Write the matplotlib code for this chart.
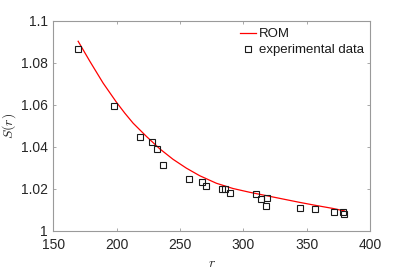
import matplotlib
matplotlib.use("Agg")
import matplotlib.pyplot as plt

plt.rcParams['font.family'] = ['Liberation Sans', 'DejaVu Sans']
plt.rcParams['mathtext.fontset'] = 'cm'

# ROM curve
rom_r = [169.6, 178.9, 189.3, 199.8, 206.4, 213.0, 223.5, 234.0, 244.5, 255.0,
         265.5, 278.7, 291.8, 305.0, 318.1, 331.2, 344.4, 357.6, 370.7, 380.0]
rom_s = [1.0902, 1.0806, 1.0703, 1.0612, 1.0560, 1.0512, 1.0449, 1.0390, 1.0340, 1.0298,
         1.0262, 1.0226, 1.0201, 1.0183, 1.0167, 1.0151, 1.0135, 1.0120, 1.0106, 1.0094]

# Experimental data
exp_r = [169.3, 197.7, 218.2, 227.9, 231.9, 236.9, 256.9, 267.6, 270.8, 282.9,
         285.8, 289.2, 309.7, 314.2, 318.4, 317.8, 344.6, 356.5, 371.4, 378.9, 379.1]
exp_s = [1.0863, 1.0595, 1.0446, 1.0424, 1.0390, 1.0314, 1.0244, 1.0232, 1.0211, 1.0200,
         1.0200, 1.0180, 1.0175, 1.0149, 1.0154, 1.0120, 1.0108, 1.0105, 1.0087, 1.0090, 1.0080]

xticks = [150, 200, 250, 300, 350, 400]
yticks = [1.0, 1.02, 1.04, 1.06, 1.08, 1.1]
yticklabels = ['1', '1.02', '1.04', '1.06', '1.08', '1.1']

fig = plt.figure(figsize=(4.09, 2.71), dpi=100)
ax = fig.add_axes([0.1304, 0.1487, 0.7742, 0.7749])

ax.plot(rom_r, rom_s, color='#ff0000', lw=0.9, label='ROM')
ax.plot(exp_r, exp_s, linestyle='none', marker='s', markersize=4.4,
        markerfacecolor='none', markeredgecolor='#1a1a1a', markeredgewidth=0.8,
        label='experimental data')

ax.set_xlim(150, 400)
ax.set_ylim(1.0, 1.1)
ax.set_xticks(xticks)
ax.set_xticklabels([str(t) for t in xticks])
ax.set_yticks(yticks)
ax.set_yticklabels(yticklabels)

for s in ax.spines.values():
    s.set_color('#9a9a9a')
    s.set_linewidth(0.8)
ax.tick_params(direction='in', length=2.5, width=0.6, color='#9a9a9a',
               labelsize=10, labelcolor='#262626', top=True, right=True)
ax.tick_params(axis='x', pad=5)
ax.tick_params(axis='y', pad=4)

ax.set_xlabel('$r$', fontsize=10, color='#262626', labelpad=3)
ax.set_ylabel('$S(r)$', fontsize=10, color='#262626', labelpad=2)

leg = ax.legend(loc='upper right', bbox_to_anchor=(0.98, 0.965), frameon=False,
                fontsize=9.5, handlelength=1.2, handletextpad=0.2,
                labelspacing=0.3, borderpad=0.0, borderaxespad=0.0)
for t in leg.get_texts():
    t.set_color('#1a1a1a')

fig.savefig('out.png', dpi=100)
